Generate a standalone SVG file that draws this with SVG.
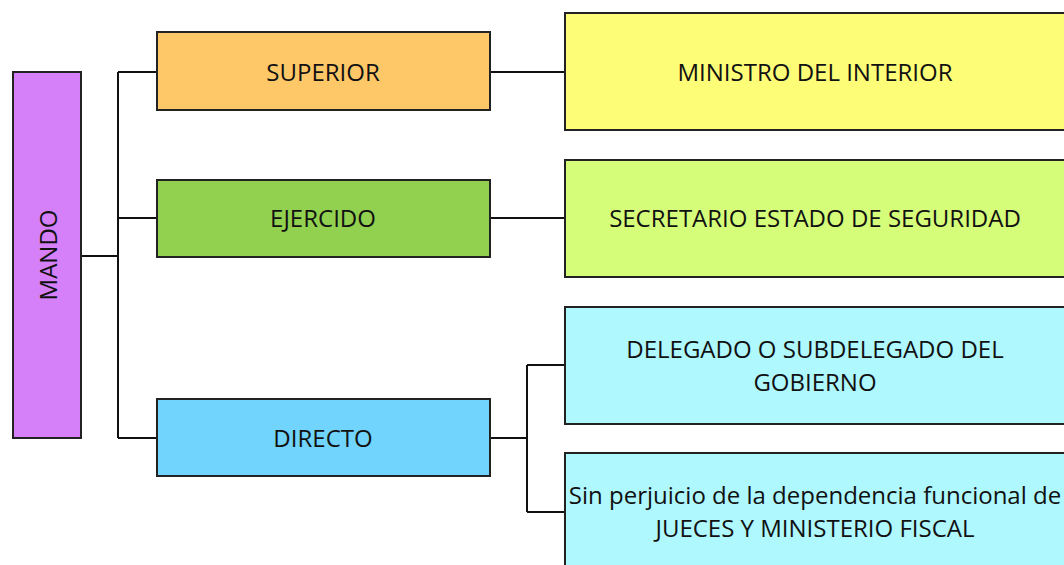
<svg xmlns="http://www.w3.org/2000/svg" width="1064" height="565" viewBox="0 0 1064 565">
<style>
.box{stroke:#222;stroke-width:2}
.t{font-family:"Open Sans","Liberation Sans",sans-serif;font-size:24px;fill:#111;text-anchor:middle;dominant-baseline:central}
.c{fill:none;stroke:#111;stroke-width:2}
</style>
<rect width="1064" height="565" fill="#fff"/>
<g id="connectors">
<path class="c" d="M81 256H118M118 72V438M118 72H157M118 218H157M118 438H157"/>
<path class="c" d="M490 72H565M490 218H565"/>
<path class="c" d="M490 438H527M527 365V512M527 365H565M527 512H565"/>
</g>
<g id="mando"><rect class="box" x="13" y="72" width="68" height="366" fill="#D580F8"/><text class="t" transform="translate(47 255) rotate(-90)">MANDO</text></g>
<g id="superior"><rect class="box" x="157" y="32" width="333" height="78" fill="#FEC868"/><text class="t" x="323" y="71">SUPERIOR</text></g>
<g id="ejercido"><rect class="box" x="157" y="180" width="333" height="77" fill="#92D050"/><text class="t" x="323" y="217">EJERCIDO</text></g>
<g id="directo"><rect class="box" x="157" y="399" width="333" height="77" fill="#70D4FC"/><text class="t" x="323" y="437">DIRECTO</text></g>
<g id="ministro"><rect class="box" x="565" y="13" width="502" height="117" fill="#FEFD78"/><text class="t" x="815" y="71">MINISTRO DEL INTERIOR</text></g>
<g id="secretario"><rect class="box" x="565" y="160" width="502" height="117" fill="#D6FD7A"/><text class="t" x="815" y="217">SECRETARIO ESTADO DE SEGURIDAD</text></g>
<g id="delegado"><rect class="box" x="565" y="307" width="502" height="117" fill="#AFF8FE"/><text class="t" x="815" y="348">DELEGADO O SUBDELEGADO DEL</text><text class="t" x="815" y="381">GOBIERNO</text></g>
<g id="jueces"><rect class="box" x="565" y="453" width="502" height="117" fill="#AFF8FE"/><text class="t" x="815" y="494">Sin perjuicio de la dependencia funcional de</text><text class="t" x="815" y="527">JUECES Y MINISTERIO FISCAL</text></g>
</svg>
